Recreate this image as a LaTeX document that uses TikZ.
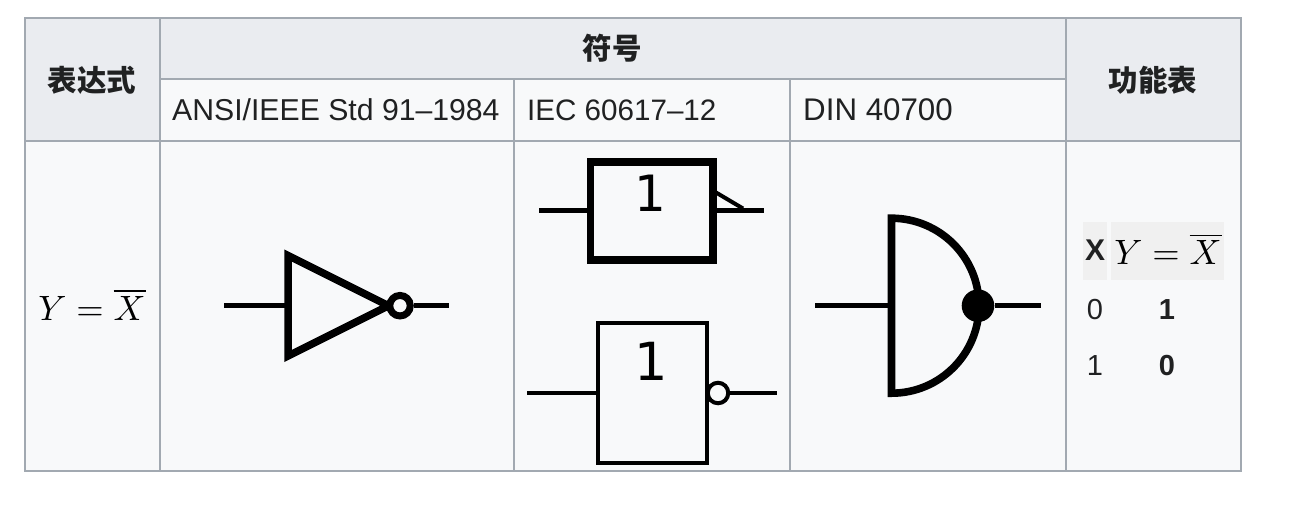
\documentclass[tikz,border=0pt]{standalone}
\usepackage{fontspec}
\setmainfont{Liberation Sans}
\newfontfamily\cjk{Noto Sans CJK SC}
\newfontfamily\djfont{DejaVu Sans}
\definecolor{bd}{HTML}{A2A9B1}
\definecolor{hd}{HTML}{EAECF0}
\definecolor{cel}{HTML}{F8F9FA}
\definecolor{tx}{HTML}{202122}
\definecolor{th}{HTML}{F0F0F0}
\newcommand{\fs}[1]{\fontsize{#1}{#1}\selectfont}
\tikzset{
 x=1pt,y=-1pt,
 grid/.style={draw=bd,line width=2pt},
 headtxt/.style={text=tx,inner sep=0pt,font=\fs{29.5}\cjk\bfseries},
 celltxt/.style={text=tx,inner sep=0pt,font=\fs{30.2},anchor=base west},
 mathtxt/.style={text=black,inner sep=0pt,scale=3.52},
 numtxt/.style={text=tx,inner sep=0pt,font=\fs{29}},
 wire/.style={draw=black,line width=5pt},
 one/.style={text=black,inner sep=0pt,font=\fs{50}\djfont},
}
\begin{document}
\begin{tikzpicture}
\useasboundingbox (0,0) rectangle (1298,512);
\fill[white] (0,0) rectangle (1298,512);
% cell backgrounds
\fill[cel] (25,18) rectangle (1241,471);
\fill[hd] (25,18) rectangle (1241,79);
\fill[hd] (25,18) rectangle (160,141);
\fill[hd] (1066,18) rectangle (1241,141);
% grid
\draw[grid] (25,18) rectangle (1241,471);
\draw[grid] (25,141) -- (1241,141);
\draw[grid] (160,79) -- (1066,79);
\draw[grid] (160,18) -- (160,471);
\draw[grid] (1066,18) -- (1066,471);
\draw[grid] (514,79) -- (514,471);
\draw[grid] (790,79) -- (790,471);
% headers
\node[headtxt] (h1) at (92,80) {表达式};
\node[headtxt] (h2) at (612,48) {符号};
\node[headtxt] (h3) at (1153,80) {功能表};
\node[celltxt] (c1) at (172,120) {ANSI/IEEE Std 91–1984};
\node[celltxt,font=\fs{29.6}] (c2) at (527,120) {IEC 60617–12};
\node[celltxt,font=\fs{31.3}] (c3) at (803,120) {DIN 40700};
\node[mathtxt] (expr) at (92,304.5) {$Y=\overline{X}$};
% ANSI inverter
\coordinate (a1) at (224,305.7);
\coordinate (a2) at (288,305.7);
\coordinate (a3) at (449,305.7);
\draw[wire] (a1) -- (a2);
\draw[line width=7.5pt,line join=miter] (288,255.5) -- (288,356) -- (388.5,305.7) -- cycle;
\node[circle,draw=black,line width=7pt,fill=cel,minimum size=20.5pt,inner sep=0pt] (abub) at (400,305.7) {};
\draw[wire] (abub) -- (a3);
% IEC top
\node[draw=black,line width=7.7pt,minimum width=122.7pt,minimum height=98pt,inner sep=0pt] (ib1) at (651.7,210.7) {};
\node[one] (one1) at (650.5,193.5) {1};
\coordinate (i1) at (539.3,210.7);
\coordinate (i2) at (764.3,210.7);
\coordinate (i3) at (716,192.5);
\coordinate (i4) at (743,208.5);
\draw[wire] (i1) -- (ib1.west);
\draw[wire] (ib1.east) -- (i2);
\draw[line width=4pt] (i3) -- (i4);
% IEC bottom
\node[draw=black,line width=4pt,minimum width=109pt,minimum height=140pt,inner sep=0pt] (ib2) at (652,393) {};
\node[one,font=\fs{52.5}\djfont] (one2) at (651.5,361) {1};
\coordinate (j1) at (527,393);
\coordinate (j2) at (777,393);
\draw[line width=4pt] (j1) -- (ib2.west);
\node[circle,draw=black,line width=4pt,fill=cel,minimum size=20.5pt,inner sep=0pt] (jb) at (718,393) {};
\draw[line width=4pt] (jb) -- (j2);
% DIN
\coordinate (d1) at (815,305.7);
\coordinate (d2) at (891.5,305.7);
\coordinate (d3) at (1041,305.7);
\draw[wire] (d1) -- (d2);
\draw[line width=7.6pt,line join=miter] (891.5,218.3) -- (891.5,393.2) arc[start angle=90,end angle=-90,x radius=87.5pt,y radius=-87.5pt] -- cycle;
\node[circle,fill=black,minimum size=32.6pt,inner sep=0pt] (dbub) at (978,305.7) {};
\draw[wire] (dbub) -- (d3);
% truth table
\fill[th] (1083,222) rectangle (1107,280);
\fill[th] (1111,222) rectangle (1224,280);
\node[text=tx,inner sep=0pt,font=\fs{30}\bfseries] (tx1) at (1095,250) {X};
\node[mathtxt] (ty) at (1168,249) {$Y=\overline{X}$};
\node[numtxt] (t00) at (1095,310) {0};
\node[numtxt,font=\fs{29}\bfseries] (t01) at (1167,310) {1};
\node[numtxt] (t10) at (1095,366) {1};
\node[numtxt,font=\fs{29}\bfseries] (t11) at (1167,366) {0};
\end{tikzpicture}
\end{document}
